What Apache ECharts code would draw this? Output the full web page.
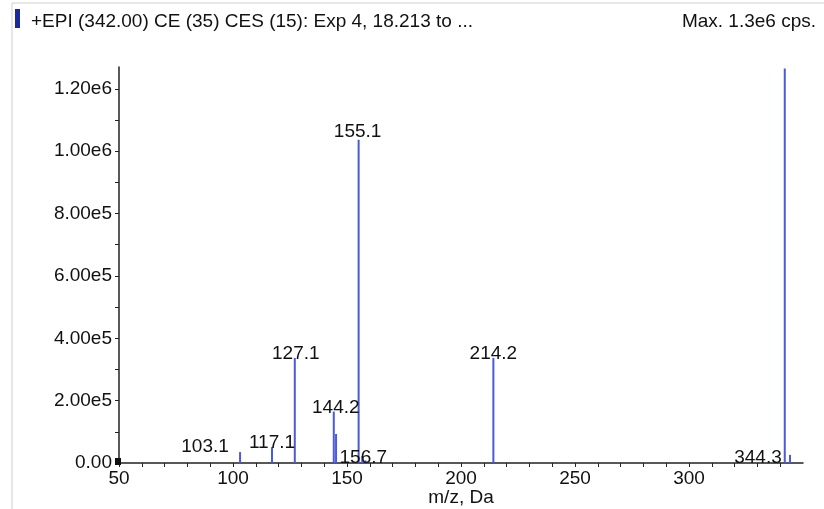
<!DOCTYPE html>
<html>
<head>
<meta charset="utf-8">
<script src="https://cdn.jsdelivr.net/npm/echarts@6/dist/echarts.min.js"></script>
<style>
html, body { margin: 0; padding: 0; background: #fff; }
#chart { width: 824px; height: 509px; }
</style>
</head>
<body>
<div id="chart"></div>
<script>
// peaks (m/z, intensity in cps)
var peakMz = [103.1, 117.1, 127.1, 144.2, 145.2, 155.1, 156.7, 158.1, 214.2, 342.0, 344.3];
var peakInt = [35000, 51000, 337000, 165000, 93000, 1037000, 22000, 8000, 337000, 1265000, 26000];
var labelMz = [103.1, 117.1, 127.1, 144.2, 155.1, 156.7, 214.2, 344.3];

var xTicks = [50, 60, 70, 80, 90, 100, 110, 120, 130, 140, 150, 160, 170, 180, 190, 200, 210, 220, 230, 240, 250, 260, 270, 280, 290, 300, 310, 320, 330, 340];
var xLabels = [50, 100, 150, 200, 250, 300];
var yTicks = [0, 1e5, 2e5, 3e5, 4e5, 5e5, 6e5, 7e5, 8e5, 9e5, 1e6, 1.1e6, 1.2e6];
var yLabels = [0, 2e5, 4e5, 6e5, 8e5, 1e6, 1.2e6];

var titleText = '+EPI (342.00) CE (35) CES (15): Exp 4, 18.213 to ...';
var maxText = 'Max. 1.3e6 cps.';

// label offsets (px) so the text sits like in the instrument software
var labelOffset = {
	'103.1': [-35, 4],
	'117.1': [0, 5],
	'127.1': [1, 5],
	'144.2': [2, 6],
	'155.1': [-1, 2],
	'156.7': [1, 11],
	'214.2': [0, 5],
	'344.3': [-32, 12]
};

var fontFam = '"Liberation Sans", Arial, sans-serif';

function yFormat(v) {
	if (v == 0) return '0.00';
	return v.toExponential(2).replace('e+', 'e');
}

var barData = [];
for (var i = 0; i < peakMz.length; i++) {
	var item = { value: [peakMz[i], peakInt[i]] };
	if (labelMz.indexOf(peakMz[i]) >= 0) {
		item.label = {
			show: true,
			position: 'top',
			distance: 0,
			offset: labelOffset[peakMz[i].toFixed(1)],
			formatter: peakMz[i].toFixed(1),
			color: '#111',
			fontSize: 19,
			fontFamily: fontFam
		};
	}
	barData.push(item);
}

var myChart = echarts.init(document.getElementById('chart'));
var option = {
	animation: false,
	backgroundColor: '#fff',
	title: [
		{
			text: titleText,
			left: 26,
			top: 7,
			textStyle: { fontSize: 19, fontWeight: 'normal', color: '#111', fontFamily: fontFam }
		},
		{
			text: maxText,
			right: 3,
			top: 7,
			textStyle: { fontSize: 19, fontWeight: 'normal', color: '#111', fontFamily: fontFam }
		}
	],
	graphic: [
		{ type: 'line', shape: { x1: 12, y1: 3, x2: 824, y2: 3 }, style: { stroke: '#d0d0d0', lineWidth: 1 } },
		{ type: 'line', shape: { x1: 12, y1: 3, x2: 12, y2: 509 }, style: { stroke: '#d0d0d0', lineWidth: 1 } },
		{ type: 'rect', shape: { x: 15, y: 9, width: 5, height: 19 }, style: { fill: '#1a2a9a' } },
		{ type: 'rect', shape: { x: 115, y: 458, width: 6, height: 7 }, style: { fill: '#111' }, z: 10 }
	],
	grid: {
		left: 119,
		right: 21,
		top: 67,
		bottom: 46,
		outerBoundsMode: 'none'
	},
	xAxis: {
		type: 'value',
		min: 50,
		max: 350,
		name: 'm/z, Da',
		nameLocation: 'middle',
		nameGap: 25,
		nameMoveOverlap: false,
		nameTextStyle: { fontSize: 19, color: '#111', fontFamily: fontFam },
		axisLine: { lineStyle: { color: '#222', width: 1.5 } },
		axisTick: { customValues: xTicks, length: 4, lineStyle: { color: '#222' } },
		axisLabel: { customValues: xLabels, fontSize: 19, color: '#111', fontFamily: fontFam, margin: 6 },
		splitLine: { show: false }
	},
	yAxis: {
		type: 'value',
		min: 0,
		max: 1270000,
		axisLine: { show: true, lineStyle: { color: '#222', width: 1.5 } },
		axisTick: { show: true, customValues: yTicks, length: 4, lineStyle: { color: '#222' } },
		axisLabel: { customValues: yLabels, formatter: yFormat, fontSize: 19, color: '#111', fontFamily: fontFam, margin: 7 },
		splitLine: { show: false }
	},
	series: [
		{
			name: 'spectrum',
			type: 'bar',
			barWidth: 2,
			itemStyle: { color: '#4a5ad8' },
			data: barData
		}
	]
};
myChart.setOption(option);
</script>
</body>
</html>
